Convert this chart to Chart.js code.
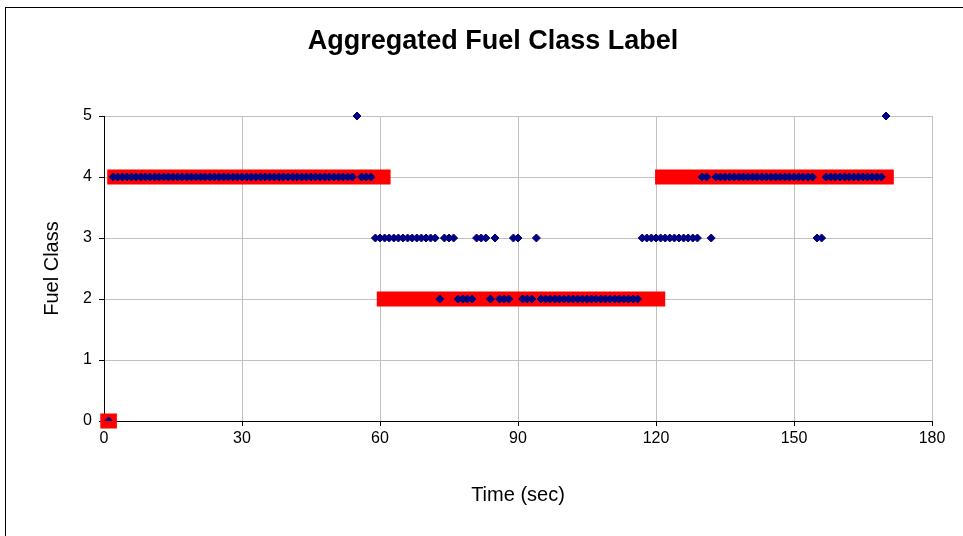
<!DOCTYPE html>
<html>
<head>
<meta charset="utf-8">
<script src="https://cdn.jsdelivr.net/npm/chart.js@4/dist/chart.umd.min.js"></script>
<style>
  html, body { margin: 0; padding: 0; background: #fff; }
  body { width: 963px; height: 536px; overflow: hidden; position: relative; }
  #frame { position: absolute; left: 5px; top: 7px; width: 980px; height: 560px; border: 1px solid #000; box-sizing: border-box; }
  #c { position: absolute; left: 0; top: 0; }
</style>
</head>
<body>
<div id="frame"></div>
<canvas id="c" width="963" height="536"></canvas>
<script>
// Sample times (seconds) and the per-sample fuel class label
const timeSec = [
  1, 2, 3, 4, 5, 6, 7, 8, 9, 10,
  11, 12, 13, 14, 15, 16, 17, 18, 19, 20,
  21, 22, 23, 24, 25, 26, 27, 28, 29, 30,
  31, 32, 33, 34, 35, 36, 37, 38, 39, 40,
  41, 42, 43, 44, 45, 46, 47, 48, 49, 50,
  51, 52, 53, 54, 55, 56, 57, 58, 59, 60,
  61, 62, 63, 64, 65, 66, 67, 68, 69, 70,
  71, 72, 73, 74, 75, 76, 77, 78, 79, 80,
  81, 82, 83, 84, 85, 86, 87, 88, 89, 90,
  91, 92, 93, 94, 95, 96, 97, 98, 99, 100,
  101, 102, 103, 104, 105, 106, 107, 108, 109, 110,
  111, 112, 113, 114, 115, 116, 117, 118, 119, 120,
  121, 122, 123, 124, 125, 126, 127, 128, 129, 130,
  131, 132, 133, 134, 135, 136, 137, 138, 139, 140,
  141, 142, 143, 144, 145, 146, 147, 148, 149, 150,
  151, 152, 153, 154, 155, 156, 157, 158, 159, 160,
  161, 162, 163, 164, 165, 166, 167, 168, 169, 170
];
const fuelClass = [
  0, 4, 4, 4, 4, 4, 4, 4, 4, 4,
  4, 4, 4, 4, 4, 4, 4, 4, 4, 4,
  4, 4, 4, 4, 4, 4, 4, 4, 4, 4,
  4, 4, 4, 4, 4, 4, 4, 4, 4, 4,
  4, 4, 4, 4, 4, 4, 4, 4, 4, 4,
  4, 4, 4, 4, 5, 4, 4, 4, 3, 3,
  3, 3, 3, 3, 3, 3, 3, 3, 3, 3,
  3, 3, 2, 3, 3, 3, 2, 2, 2, 2,
  3, 3, 3, 2, 3, 2, 2, 2, 3, 3,
  2, 2, 2, 3, 2, 2, 2, 2, 2, 2,
  2, 2, 2, 2, 2, 2, 2, 2, 2, 2,
  2, 2, 2, 2, 2, 2, 3, 3, 3, 3,
  3, 3, 3, 3, 3, 3, 3, 3, 3, 4,
  4, 3, 4, 4, 4, 4, 4, 4, 4, 4,
  4, 4, 4, 4, 4, 4, 4, 4, 4, 4,
  4, 4, 4, 4, 3, 3, 4, 4, 4, 4,
  4, 4, 4, 4, 4, 4, 4, 4, 4, 5
];

// Aggregated label: one class per time window
const aggStart = [-0.8, 0.7, 59.3, 119.8];
const aggEnd   = [2.8, 62.3, 122.0, 171.7];
const aggClass = [0, 4, 2, 4];

// Axis tick values
const xTicks = [0, 30, 60, 90, 120, 150, 180];
const yTicks = [0, 1, 2, 3, 4, 5];

const chartTitle = 'Aggregated Fuel Class Label';

const samplePoints = timeSec.map((t, i) => ({ x: t, y: fuelClass[i] }));

// Each window becomes a separate thick segment, broken apart by null points
const aggPoints = [];
aggClass.forEach((c, i) => {
  aggPoints.push({ x: aggStart[i], y: c });
  aggPoints.push({ x: aggEnd[i], y: c });
  aggPoints.push({ x: aggEnd[i], y: null });
});

const FONT = "'Liberation Sans', Arial, sans-serif";

// Title centred over the whole chart frame rather than the canvas
const frameTitle = {
  id: 'frameTitle',
  afterDraw(chart) {
    const ctx = chart.ctx;
    ctx.save();
    ctx.fillStyle = '#000';
    ctx.font = 'bold 27px ' + FONT;
    ctx.textAlign = 'center';
    ctx.textBaseline = 'middle';
    ctx.fillText(chartTitle, 493, 42);
    ctx.restore();
  }
};

new Chart(document.getElementById('c'), {
  type: 'scatter',
  data: {
    datasets: [
      {
        label: 'Fuel Class',
        data: samplePoints,
        pointStyle: 'rectRot',
        pointRadius: 4,
        pointBorderWidth: 1,
        backgroundColor: '#000080',
        borderColor: '#000080',
        showLine: false,
        clip: { left: 10, top: 10, right: 10, bottom: 0 }
      },
      {
        label: 'Aggregated',
        data: aggPoints,
        showLine: true,
        spanGaps: false,
        borderColor: '#ff0000',
        backgroundColor: '#ff0000',
        borderWidth: 15,
        borderCapStyle: 'butt',
        pointRadius: 0,
        clip: false
      }
    ]
  },
  plugins: [frameTitle],
  options: {
    responsive: false,
    animation: false,
    events: [],
    layout: { padding: { left: 0, right: 31, top: 116, bottom: 0 } },
    plugins: {
      legend: { display: false },
      tooltip: { enabled: false },
      title: { display: false }
    },
    scales: {
      x: {
        type: 'linear',
        min: 0,
        max: 180,
        afterBuildTicks: (s) => { s.ticks = xTicks.map(v => ({ value: v })); },
        afterFit: (s) => { s.height = 115; s.paddingLeft = 0; s.paddingRight = 0; },
        grid: { color: '#c0c0c0', lineWidth: 1, tickColor: '#000', tickLength: 5, drawTicks: true },
        border: { color: '#000', width: 1 },
        ticks: { color: '#000', font: { family: FONT, size: 16 }, padding: 3, maxRotation: 0 },
        title: {
          display: true,
          text: 'Time (sec)',
          color: '#000',
          font: { family: FONT, size: 20 },
          padding: { top: 0, bottom: 29 }
        }
      },
      y: {
        type: 'linear',
        min: 0,
        max: 5,
        afterBuildTicks: (s) => { s.ticks = yTicks.map(v => ({ value: v })); },
        afterFit: (s) => { s.width = 104; s.paddingTop = 0; s.paddingBottom = 0; },
        grid: { color: '#c0c0c0', lineWidth: 1, tickColor: '#000', tickLength: 5, drawTicks: true },
        border: { color: '#000', width: 1 },
        ticks: { color: '#000', font: { family: FONT, size: 16 }, padding: 7 },
        title: {
          display: true,
          text: 'Fuel Class',
          color: '#000',
          font: { family: FONT, size: 20 },
          padding: { top: 40, bottom: 0 }
        }
      }
    }
  }
});
</script>
</body>
</html>
